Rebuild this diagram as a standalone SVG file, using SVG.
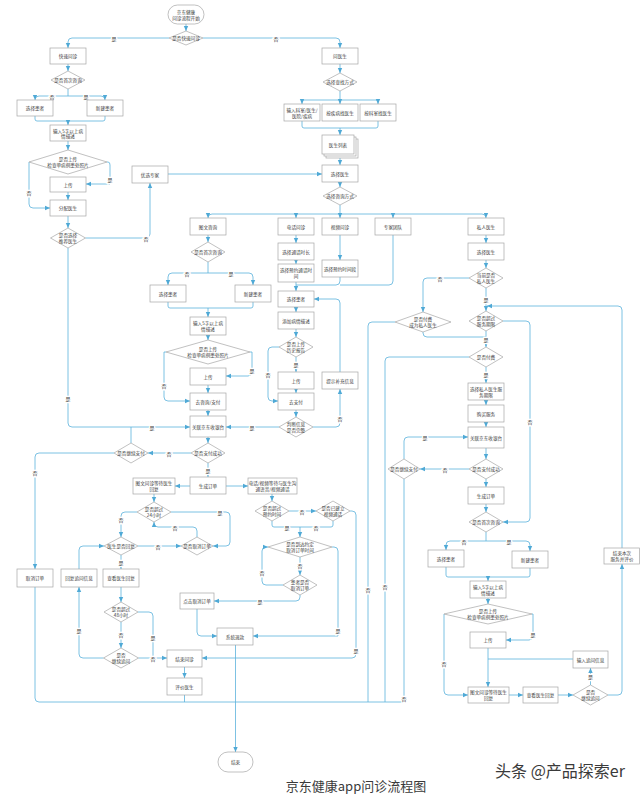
<svg xmlns="http://www.w3.org/2000/svg" width="640" height="795" viewBox="0 0 640 795">
<defs>
<marker id="ar" markerWidth="6" markerHeight="6" refX="5" refY="3" orient="auto" markerUnits="userSpaceOnUse"><path d="M0,0.8 L5,3 L0,5.2 z" fill="#4fa9d6"/></marker>
<style>
.b{fill:#fff;stroke:#a6a6a6;stroke-width:0.7}
.c{fill:none;stroke:#5cb2dc;stroke-width:0.8}
.a{marker-end:url(#ar)}
text{font-family:"Noto Sans CJK SC","Noto Sans",sans-serif;fill:#3a3a3a}
.t{font-size:4.6px;text-anchor:middle;dominant-baseline:central}
.l{font-size:5px;text-anchor:middle;dominant-baseline:central;stroke:#fff;stroke-width:2.5;paint-order:stroke}
</style>
</defs>
<rect width="640" height="795" fill="#fff"/>

<g id="connectors">
<path class="c a" d="M186,24 V31"/>
<path class="c a" d="M169,38 H72 Q68,38 68,42 V48"/>
<path class="c a" d="M203,38 H336 Q340,38 340,42 V48"/>
<path class="c a" d="M68,64 V71"/>
<path class="c" d="M68,89 V96"/>
<path class="c a" d="M68,96 H39 Q35,96 35,100"/>
<path class="c a" d="M68,96 H101 Q105,96 105,100"/>
<path class="c" d="M35,116 V119 Q35,121 37,121 H103 Q105,121 105,119 V116"/>
<path class="c a" d="M68,121 V125"/>
<path class="c a" d="M68,141 V150"/>
<path class="c a" d="M107,162 H108 Q110,162 110,165 V184 H86"/>
<path class="c a" d="M29,162 V204 Q29,208 33,208 H50"/>
<path class="c a" d="M68,192 V200"/>
<path class="c a" d="M68,216 V228"/>
<path class="c a" d="M85.5,238 H146 Q150,238 150,234 V183"/>
<path class="c a" d="M168,174 H322"/>
<path class="c a" d="M68,248 V423 Q68,427 72,427 H190"/>
<path class="c" d="M131,443 V427"/>
<path class="c a" d="M340,64 V73"/>
<path class="c" d="M340,91 V100"/>
<path class="c a" d="M340,100 H304 Q302,100 302,102 V104"/>
<path class="c a" d="M340,100 V104"/>
<path class="c a" d="M340,100 H376 Q378,100 378,102 V104"/>
<path class="c" d="M302,121 V126 Q302,128 304,128 H376 Q378,128 378,126 V121"/>
<path class="c a" d="M340,128 V135"/>
<path class="c a" d="M340,158 V165"/>
<path class="c a" d="M340,182 V187"/>
<path class="c" d="M340,205 V214"/>
<path class="c a" d="M340,214 H212 Q208,214 208,218"/>
<path class="c a" d="M296,214 V218"/>
<path class="c a" d="M340,214 V218"/>
<path class="c a" d="M393,214 V218"/>
<path class="c a" d="M340,214 H482 Q486,214 486,218"/>
<path class="c a" d="M208,235 V242"/>
<path class="c" d="M208,262 V273"/>
<path class="c a" d="M208,273 H172 Q168,273 168,277 V285"/>
<path class="c a" d="M208,273 H249 Q253,273 253,277 V285"/>
<path class="c" d="M168,302 V306 Q168,308 170,308 H251 Q253,308 253,306 V302"/>
<path class="c a" d="M208,308 V317"/>
<path class="c a" d="M208,335 V340"/>
<path class="c a" d="M250,352 H252 V372 Q252,376 248,376 H226"/>
<path class="c a" d="M166,352 H164 V397 Q164,401 168,401 H190"/>
<path class="c a" d="M208,385 V393"/>
<path class="c a" d="M208,410 V416"/>
<path class="c a" d="M208,437 V443"/>
<path class="c a" d="M191,453 H148"/>
<path class="c a" d="M114,453 H39 Q35,453 35,457 V569"/>
<path class="c a" d="M208,463 V477"/>
<path class="c a" d="M190,486 H175"/>
<path class="c a" d="M226,486 H248"/>
<path class="c a" d="M154,494 V502"/>
<path class="c a" d="M137,512 H125 Q121,512 121,516 V537"/>
<path class="c a" d="M171,512 H226 Q230,512 230,516 V542 Q230,546 226,546 H213"/>
<path class="c a" d="M197,537 V531 Q197,527 193,527 H158 Q154,527 154,523 V522"/>
<path class="c a" d="M138,546 H181"/>
<path class="c a" d="M79,569 V550 Q79,546 83,546 H104"/>
<path class="c a" d="M121,555 V569"/>
<path class="c a" d="M121,587 V602"/>
<path class="c a" d="M121,622 V648"/>
<path class="c a" d="M103.5,658 H83 Q79,658 79,654 V587"/>
<path class="c" d="M138,612 H149 Q153,612 153,616 V658"/>
<path class="c a" d="M138.5,658 H167"/>
<path class="c a" d="M184.5,667 V678"/>
<path class="c" d="M184.5,695 V702"/>
<path class="c" d="M35,587 V698 Q35,702 39,702 H404"/>
<path class="c a" d="M272,494 V501"/>
<path class="c a" d="M289,511 H316"/>
<path class="c" d="M272,521 V525 Q272,527 274,527 H331 Q333,527 333,525 V521"/>
<path class="c a" d="M300,527 V537"/>
<path class="c a" d="M300,557 V575"/>
<path class="c a" d="M283,585 H266 Q262,585 262,581 V551 Q262,547 266,547 H268"/>
<path class="c a" d="M300,595 V597 Q300,601 296,601 H214"/>
<path class="c a" d="M197,609 V632 Q197,636 201,636 H217"/>
<path class="c a" d="M332,547 H334 Q338,547 338,551 V636 H253"/>
<path class="c a" d="M350,511 H352 Q356,511 356,515 V654 Q356,658 352,658 H202"/>
<path class="c a" d="M235.5,645 V752"/>
<path class="c a" d="M296,235 V243"/>
<path class="c a" d="M296,260 V264"/>
<path class="c a" d="M340,235 V260"/>
<path class="c a" d="M296,282 V291"/>
<path class="c" d="M340,277 V281 Q340,285 336,285 H296"/>
<path class="c" d="M393,235 V281 Q393,285 389,285 H340"/>
<path class="c a" d="M296,307 V312"/>
<path class="c a" d="M296,329 V337"/>
<path class="c a" d="M296,357 V372"/>
<path class="c a" d="M279,347 H272 Q268,347 268,351 V397 Q268,401 272,401 H278"/>
<path class="c a" d="M296,389 V393"/>
<path class="c a" d="M296,410 V417"/>
<path class="c a" d="M279,427 H226"/>
<path class="c a" d="M313,427 H336 Q340,427 340,423 V389"/>
<path class="c a" d="M340,372 V303 Q340,299 336,299 H314"/>
<path class="c a" d="M486,235 V243"/>
<path class="c a" d="M486,260 V268"/>
<path class="c a" d="M469,278 H427 Q423,278 423,282 V312"/>
<path class="c a" d="M486,288 V311"/>
<path class="c" d="M423,332 V333 Q423,337 427,337 H486"/>
<path class="c a" d="M486,331 V347"/>
<path class="c a" d="M486,367 V383"/>
<path class="c" d="M469,357 H389 Q385,357 385,361 V702"/>
<path class="c" d="M395,322 H372 Q368,322 368,326 V702"/>
<path class="c a" d="M503,321 H526 Q530,321 530,325 V518 Q530,522 526,522 H503"/>
<path class="c a" d="M486,400 V405"/>
<path class="c a" d="M486,422 V427"/>
<path class="c a" d="M486,448 V459"/>
<path class="c a" d="M469,469 H420"/>
<path class="c a" d="M404,459 V441 Q404,437 408,437 H468"/>
<path class="c" d="M404,479 V702"/>
<path class="c a" d="M486,479 V487"/>
<path class="c a" d="M486,504 V512"/>
<path class="c" d="M486,532 V541"/>
<path class="c a" d="M486,541 H450 Q446,541 446,545 V550"/>
<path class="c a" d="M486,541 H526 Q530,541 530,545 V551"/>
<path class="c" d="M446,567 V575 Q446,577 448,577 H528 Q530,577 530,575 V568"/>
<path class="c a" d="M488,577 V581"/>
<path class="c a" d="M488,598 V604"/>
<path class="c a" d="M532,614 H533 V636 Q533,640 529,640 H506"/>
<path class="c a" d="M444,614 V691 Q444,695 448,695 H468"/>
<path class="c a" d="M488,648 V687"/>
<path class="c" d="M573,659 H488"/>
<path class="c a" d="M509,695 H523"/>
<path class="c a" d="M558,695 H573"/>
<path class="c a" d="M590.5,685 V668"/>
<path class="c a" d="M608,695 H618 Q622,695 622,691 V564"/>
<path class="c a" d="M622,548 V310 Q622,306 618,306 H487"/>
</g>

<g id="labels">
<text class="l" x="114" y="38">是</text>
<text class="l" x="276" y="38">否</text>
<text class="l" x="52" y="96">否</text>
<text class="l" x="86" y="96">是</text>
<text class="l" x="110" y="179">是</text>
<text class="l" x="29" y="192">否</text>
<text class="l" x="146" y="238">否</text>
<text class="l" x="68" y="398">是</text>
<text class="l" x="152" y="427">是</text>
<text class="l" x="187" y="273">否</text>
<text class="l" x="231" y="273">是</text>
<text class="l" x="252" y="370">是</text>
<text class="l" x="164" y="385">否</text>
<text class="l" x="169" y="453">否</text>
<text class="l" x="35" y="472">否</text>
<text class="l" x="208" y="470">是</text>
<text class="l" x="121" y="519">否</text>
<text class="l" x="220" y="512">是</text>
<text class="l" x="175" y="527">否</text>
<text class="l" x="158" y="546">否</text>
<text class="l" x="121" y="562">是</text>
<text class="l" x="121" y="634">否</text>
<text class="l" x="79" y="630">是</text>
<text class="l" x="153" y="637">是</text>
<text class="l" x="153" y="658">否</text>
<text class="l" x="302" y="511">否</text>
<text class="l" x="287" y="527">是</text>
<text class="l" x="316" y="527">否</text>
<text class="l" x="300" y="565">否</text>
<text class="l" x="262" y="572">否</text>
<text class="l" x="260" y="601">是</text>
<text class="l" x="338" y="630">是</text>
<text class="l" x="356" y="650">是</text>
<text class="l" x="296" y="364">是</text>
<text class="l" x="268" y="374">否</text>
<text class="l" x="252" y="427">是</text>
<text class="l" x="340" y="418">否</text>
<text class="l" x="440" y="278">否</text>
<text class="l" x="486" y="299">是</text>
<text class="l" x="486" y="339">是</text>
<text class="l" x="486" y="374">是</text>
<text class="l" x="385" y="586">否</text>
<text class="l" x="368" y="589">否</text>
<text class="l" x="530" y="421">否</text>
<text class="l" x="445" y="469">否</text>
<text class="l" x="425" y="437">是</text>
<text class="l" x="404" y="698">否</text>
<text class="l" x="464" y="541">否</text>
<text class="l" x="509" y="541">是</text>
<text class="l" x="533" y="634">是</text>
<text class="l" x="444" y="663">否</text>
<text class="l" x="590.5" y="676">是</text>
</g>

<g id="start"><rect class="b" x="168" y="5" width="36" height="19" rx="9.5"/><text class="t" x="186" y="11.5">京东健康</text><text class="t" x="186" y="17.5">问诊流程开始</text></g>
<g id="d-quick"><polygon class="b" points="169,38 186,31 203,38 186,45"/><text class="t" x="186" y="38">是否快速问诊</text></g>

<g id="quick"><rect class="b" x="50" y="48" width="36" height="16"/><text class="t" x="68" y="56">快速问诊</text></g>
<g id="d-first1"><polygon class="b" points="51,80 68,71 85,80 68,89"/><text class="t" x="68" y="80">是否首次咨询</text></g>
<g id="sel1"><rect class="b" x="17" y="100" width="36" height="16"/><text class="t" x="35" y="108">选择患者</text></g>
<g id="new1"><rect class="b" x="87" y="100" width="36" height="16"/><text class="t" x="105" y="108">新建患者</text></g>
<g id="desc1"><rect class="b" x="50" y="125" width="36" height="16"/><text class="t" x="68" y="130.5">输入5字以上病</text><text class="t" x="68" y="136">情描述</text></g>
<g id="d-up1"><polygon class="b" points="29,162 68,150 107,162 68,174"/><text class="t" x="68" y="159">是否上传</text><text class="t" x="68" y="165">检查单病例患处照片</text></g>
<g id="up1"><rect class="b" x="50" y="177" width="36" height="15"/><text class="t" x="68" y="184.5">上传</text></g>
<g id="assign"><rect class="b" x="50" y="200" width="36" height="16"/><text class="t" x="68" y="208">分配医生</text></g>
<g id="d-rec"><polygon class="b" points="50.5,238 68,228 85.5,238 68,248"/><text class="t" x="68" y="235">是否选择</text><text class="t" x="68" y="241">推荐医生</text></g>
<g id="expert"><rect class="b" x="132" y="166" width="36" height="17"/><text class="t" x="150" y="174.5">优选专家</text></g>

<g id="askdoc"><rect class="b" x="322" y="48" width="36" height="16"/><text class="t" x="340" y="56">问医生</text></g>
<g id="d-find"><polygon class="b" points="323,82 340,73 357,82 340,91"/><text class="t" x="340" y="82">选择查找方式</text></g>
<g id="input-dept"><rect class="b" x="284" y="104" width="36" height="17"/><text class="t" x="302" y="109.5">输入科室/医生/</text><text class="t" x="302" y="115.5">医院/疾病</text></g>
<g id="by-disease"><rect class="b" x="322" y="104" width="36" height="17"/><text class="t" x="340" y="112.5">按疾病找医生</text></g>
<g id="by-dept"><rect class="b" x="360" y="104" width="36" height="17"/><text class="t" x="378" y="112.5">按科室找医生</text></g>
<g id="doclist"><rect class="b" x="326" y="139" width="32" height="19"/><rect class="b" x="324" y="137" width="32" height="19"/><rect class="b" x="322" y="135" width="32" height="19"/><text class="t" x="338" y="144.5">医生列表</text></g>
<g id="seldoc"><rect class="b" x="322" y="165" width="36" height="17"/><text class="t" x="340" y="173.5">选择医生</text></g>
<g id="d-mode"><polygon class="b" points="323,196 340,187 357,196 340,205"/><text class="t" x="340" y="196">选择咨询方式</text></g>

<g id="tw"><rect class="b" x="190" y="218" width="36" height="17"/><text class="t" x="208" y="226.5">图文咨询</text></g>
<g id="phone"><rect class="b" x="278" y="218" width="36" height="17"/><text class="t" x="296" y="226.5">电话问诊</text></g>
<g id="video"><rect class="b" x="322" y="218" width="36" height="17"/><text class="t" x="340" y="226.5">视频问诊</text></g>
<g id="team"><rect class="b" x="375" y="218" width="36" height="17"/><text class="t" x="393" y="226.5">专家团队</text></g>
<g id="private"><rect class="b" x="468" y="218" width="36" height="17"/><text class="t" x="486" y="226.5">私人医生</text></g>

<g id="d-first2"><polygon class="b" points="191,252 208,242 225,252 208,262"/><text class="t" x="208" y="252">是否首次咨询</text></g>
<g id="sel2"><rect class="b" x="150" y="285" width="36" height="17"/><text class="t" x="168" y="293.5">选择患者</text></g>
<g id="new2"><rect class="b" x="235" y="285" width="36" height="17"/><text class="t" x="253" y="293.5">新建患者</text></g>
<g id="desc2"><rect class="b" x="190" y="317" width="36" height="18"/><text class="t" x="208" y="323">输入5字以上病</text><text class="t" x="208" y="329">情描述</text></g>
<g id="d-up2"><polygon class="b" points="166,352 208,340 250,352 208,364"/><text class="t" x="208" y="349">是否上传</text><text class="t" x="208" y="355">检查单病例患处照片</text></g>
<g id="up2"><rect class="b" x="190" y="368" width="36" height="17"/><text class="t" x="208" y="376.5">上传</text></g>
<g id="pay2"><rect class="b" x="190" y="393" width="36" height="17"/><text class="t" x="208" y="401.5">去咨询/支付</text></g>
<g id="cashier2"><rect class="b" x="190" y="416" width="36" height="21"/><text class="t" x="208" y="426.5">关联京东收银台</text></g>
<g id="d-paid2"><polygon class="b" points="191,453 208,443 225,453 208,463"/><text class="t" x="208" y="453">是否支付成功</text></g>
<g id="d-cont2"><polygon class="b" points="114,453 131,443 148,453 131,463"/><text class="t" x="131" y="453">是否继续支付</text></g>
<g id="order2"><rect class="b" x="190" y="477" width="36" height="17"/><text class="t" x="208" y="485.5">生成订单</text></g>
<g id="cancel1"><rect class="b" x="17" y="569" width="36" height="18"/><text class="t" x="35" y="578">取消订单</text></g>

<g id="tw-wait"><rect class="b" x="133" y="478" width="42" height="16"/><text class="t" x="154" y="483">图文问诊等待医生</text><text class="t" x="154" y="489">回复</text></g>
<g id="d-24h"><polygon class="b" points="137,512 154,502 171,512 154,522"/><text class="t" x="154" y="509">是否超过</text><text class="t" x="154" y="515">24小时</text></g>
<g id="d-cancelq"><polygon class="b" points="181,546 197,537 213,546 197,555"/><text class="t" x="197" y="546">是否取消订单</text></g>
<g id="d-reply"><polygon class="b" points="104,546 121,537 138,546 121,555"/><text class="t" x="121" y="546">医生是否回复</text></g>
<g id="reask"><rect class="b" x="61" y="569" width="36" height="18"/><text class="t" x="79" y="578">回复追问信息</text></g>
<g id="view1"><rect class="b" x="103" y="569" width="36" height="18"/><text class="t" x="121" y="578">查看医生回复</text></g>
<g id="d-48h"><polygon class="b" points="104,612 121,602 138,612 121,622"/><text class="t" x="121" y="609">是否超过</text><text class="t" x="121" y="615">48小时</text></g>
<g id="d-again1"><polygon class="b" points="103.5,658 121,648 138.5,658 121,668"/><text class="t" x="121" y="655">是否</text><text class="t" x="121" y="661">继续追问</text></g>
<g id="finish"><rect class="b" x="167" y="650" width="35" height="17"/><text class="t" x="184.5" y="658.5">结束问诊</text></g>
<g id="rate"><rect class="b" x="167" y="678" width="35" height="17"/><text class="t" x="184.5" y="686.5">评价医生</text></g>
<g id="click-cancel"><rect class="b" x="180" y="593" width="34" height="16"/><text class="t" x="197" y="601">点击取消订单</text></g>
<g id="refund"><rect class="b" x="217" y="628" width="36" height="17"/><text class="t" x="235" y="636.5">系统退款</text></g>
<g id="end"><rect class="b" x="218" y="752" width="35" height="20" rx="10"/><text class="t" x="235.5" y="762">结束</text></g>

<g id="pv-wait"><rect class="b" x="248" y="478" width="49" height="16"/><text class="t" x="272.5" y="483">电话/视频等待与医生沟</text><text class="t" x="272.5" y="489">通语音/视频通话</text></g>
<g id="d-appt"><polygon class="b" points="255,511 272,501 289,511 272,521"/><text class="t" x="272" y="508">是否超过</text><text class="t" x="272" y="514">预约时间</text></g>
<g id="d-built"><polygon class="b" points="316,511 333,501 350,511 333,521"/><text class="t" x="333" y="508">是否已建立</text><text class="t" x="333" y="514">视频通话</text></g>
<g id="d-reach"><polygon class="b" points="268,547 300,537 332,547 300,557"/><text class="t" x="300" y="544">是否到达约定</text><text class="t" x="300" y="550">取消订单时间</text></g>
<g id="d-pcancel"><polygon class="b" points="283,585 300,575 317,585 300,595"/><text class="t" x="300" y="582">患者是否</text><text class="t" x="300" y="588">取消订单</text></g>

<g id="dur"><rect class="b" x="278" y="243" width="36" height="17"/><text class="t" x="296" y="251.5">选择通话时长</text></g>
<g id="appt-time"><rect class="b" x="278" y="264" width="36" height="18"/><text class="t" x="296" y="270">选择预约通话时</text><text class="t" x="296" y="276">间</text></g>
<g id="video-time"><rect class="b" x="322" y="260" width="36" height="17"/><text class="t" x="340" y="268.5">选择预约时间段</text></g>
<g id="sel3"><rect class="b" x="278" y="291" width="36" height="16"/><text class="t" x="296" y="299">选择患者</text></g>
<g id="desc3"><rect class="b" x="278" y="312" width="36" height="17"/><text class="t" x="296" y="320.5">添加病情描述</text></g>
<g id="d-up3"><polygon class="b" points="279,347 296,337 313,347 296,357"/><text class="t" x="296" y="344">是否上传</text><text class="t" x="296" y="350">历史报告</text></g>
<g id="up3"><rect class="b" x="278" y="372" width="36" height="17"/><text class="t" x="296" y="380.5">上传</text></g>
<g id="pay3"><rect class="b" x="278" y="393" width="36" height="17"/><text class="t" x="296" y="401.5">去支付</text></g>
<g id="d-full"><polygon class="b" points="279,427 296,417 313,427 296,437"/><text class="t" x="296" y="424">判断信息</text><text class="t" x="296" y="430">是否完整</text></g>
<g id="hint"><rect class="b" x="322" y="372" width="36" height="17"/><text class="t" x="340" y="380.5">提示补充信息</text></g>

<g id="seldoc2"><rect class="b" x="468" y="243" width="36" height="17"/><text class="t" x="486" y="251.5">选择医生</text></g>
<g id="d-isprivate"><polygon class="b" points="469,278 486,268 503,278 486,288"/><text class="t" x="486" y="275">当前是否</text><text class="t" x="486" y="281">私人医生</text></g>
<g id="d-become"><polygon class="b" points="395,322 423,312 451,322 423,332"/><text class="t" x="423" y="319">是否付费</text><text class="t" x="423" y="325">成为私人医生</text></g>
<g id="d-expire"><polygon class="b" points="469,321 486,311 503,321 486,331"/><text class="t" x="486" y="318">是否超过</text><text class="t" x="486" y="324">服务期限</text></g>
<g id="d-fee"><polygon class="b" points="469,357 486,347 503,357 486,367"/><text class="t" x="486" y="357">是否付费</text></g>
<g id="period"><rect class="b" x="468" y="383" width="36" height="17"/><text class="t" x="486" y="388.5">选择私人医生服</text><text class="t" x="486" y="394.5">务期限</text></g>
<g id="buy"><rect class="b" x="468" y="405" width="36" height="17"/><text class="t" x="486" y="413.5">购买服务</text></g>
<g id="cashier4"><rect class="b" x="468" y="427" width="36" height="21"/><text class="t" x="486" y="437.5">关联京东收银台</text></g>
<g id="d-paid4"><polygon class="b" points="469,469 486,459 503,469 486,479"/><text class="t" x="486" y="469">是否支付成功</text></g>
<g id="d-cont4"><polygon class="b" points="388,469 404,459 420,469 404,479"/><text class="t" x="404" y="469">是否继续支付</text></g>
<g id="order4"><rect class="b" x="468" y="487" width="36" height="17"/><text class="t" x="486" y="495.5">生成订单</text></g>
<g id="d-first4"><polygon class="b" points="469,522 486,512 503,522 486,532"/><text class="t" x="486" y="522">是否首次咨询</text></g>
<g id="sel4"><rect class="b" x="428" y="550" width="36" height="17"/><text class="t" x="446" y="558.5">选择患者</text></g>
<g id="new4"><rect class="b" x="512" y="551" width="36" height="17"/><text class="t" x="530" y="559.5">新建患者</text></g>
<g id="desc4"><rect class="b" x="470" y="581" width="36" height="17"/><text class="t" x="488" y="586.5">输入5字以上病</text><text class="t" x="488" y="592.5">情描述</text></g>
<g id="d-up4"><polygon class="b" points="444,614 488,604 532,614 488,624"/><text class="t" x="488" y="611">是否上传</text><text class="t" x="488" y="617">检查单病例患处照片</text></g>
<g id="up4"><rect class="b" x="470" y="632" width="36" height="16"/><text class="t" x="488" y="640">上传</text></g>
<g id="tw-wait4"><rect class="b" x="468" y="687" width="41" height="16"/><text class="t" x="488.5" y="692">图文问诊等待医生</text><text class="t" x="488.5" y="698">回复</text></g>
<g id="view4"><rect class="b" x="523" y="687" width="35" height="16"/><text class="t" x="540.5" y="695">查看医生回复</text></g>
<g id="d-again4"><polygon class="b" points="573,695 590.5,685 608,695 590.5,705"/><text class="t" x="590.5" y="692">是否</text><text class="t" x="590.5" y="698">继续追问</text></g>
<g id="reask4"><rect class="b" x="573" y="651" width="35" height="17"/><text class="t" x="590.5" y="659.5">输入追问信息</text></g>
<g id="end-service"><rect class="b" x="604" y="548" width="35.5" height="16"/><text class="t" x="622" y="553">结束本次</text><text class="t" x="622" y="559">服务并评价</text></g>

<text x="356" y="791" font-size="13" text-anchor="middle" fill="#333">京东健康app问诊流程图</text>
<text x="560" y="777" font-size="16" text-anchor="middle" fill="#555">头条 @产品探索er</text>
</svg>
